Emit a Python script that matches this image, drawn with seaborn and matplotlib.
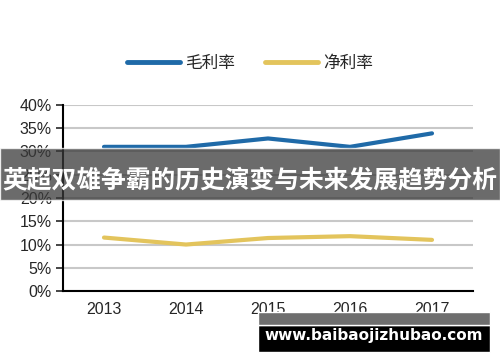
import pandas as pd
import matplotlib
matplotlib.use("Agg")
import matplotlib.pyplot as plt
import seaborn as sns
from matplotlib.patches import Rectangle

years = ["2013", "2014", "2015", "2016", "2017"]
gross_margin = [31.0, 31.0, 32.8, 31.0, 33.9]
net_margin = [11.5, 10.0, 11.4, 11.8, 11.0]
series_names = ["毛利率", "净利率"]
yticks = [0, 5, 10, 15, 20, 25, 30, 35, 40]

sns.set_style("white")
plt.rcParams["font.family"] = ["Liberation Sans", "Noto Sans CJK SC", "DejaVu Sans"]

df = pd.DataFrame({
    "x": list(range(len(years))) * 2,
    "value": gross_margin + net_margin,
    "series": [series_names[0]] * len(years) + [series_names[1]] * len(years),
})

fig = plt.figure(figsize=(5, 3.62), dpi=100)
ax = fig.add_axes([0.126, 0.196, 0.82, 0.514])

sns.lineplot(data=df, x="x", y="value", hue="series",
             palette=["#1f6aa8", "#e3c45c"], linewidth=3, ax=ax, legend=False)

ax.set_xlim(-0.5, len(years) - 0.5)
ax.set_ylim(0, 40)
ax.set_yticks(yticks)
ax.set_yticklabels([f"{t}%" for t in yticks], fontsize=11.5)
ax.set_xticks(range(len(years)))
ax.set_xticklabels(years, fontsize=11.5)
ax.set_xticks([i - 0.5 for i in range(len(years) + 1)], minor=True)
ax.tick_params(axis="x", which="major", length=0, pad=8)
ax.tick_params(axis="x", which="minor", length=5, width=1.2, direction="out")
ax.tick_params(axis="y", length=5, width=1.2, direction="out", left=True, pad=3)
ax.set_xlabel("")
ax.set_ylabel("")
ax.yaxis.grid(True, color="#c8c8c8", linewidth=1.5)
ax.set_axisbelow(True)
for side in ["top", "right"]:
    ax.spines[side].set_visible(False)
for side in ["left", "bottom"]:
    ax.spines[side].set_color("black")
    ax.spines[side].set_linewidth(1.5)

# legend drawn at top
handles = [plt.Line2D([], [], color=c, linewidth=3.5, solid_capstyle="round")
           for c in ["#1f6aa8", "#e3c45c"]]
fig.legend(handles, series_names, loc="center", bbox_to_anchor=(0.5, 0.826),
           ncol=2, frameon=False, handlelength=3.2, columnspacing=1.8,
           handletextpad=0.3, prop={"family": "Noto Sans CJK SC", "size": 12})

# overlay banner
fig.patches.append(Rectangle((0, 0.448), 1, 0.142, transform=fig.transFigure,
                             facecolor="#3a3a3a", alpha=0.75, zorder=5))
fig.text(0.5, 0.503, "英超双雄争霸的历史演变与未来发展趋势分析", ha="center", va="center",
         color="white", fontsize=17.8, fontweight="bold",
         family=["Noto Sans CJK SC", "DejaVu Sans"], zorder=6)

# watermark
fig.patches.append(Rectangle((0.516, 0.028), 0.464, 0.073, transform=fig.transFigure,
                             facecolor="black", zorder=5))
fig.patches.append(Rectangle((0.516, 0.101), 0.464, 0.036, transform=fig.transFigure,
                             facecolor="#6e6e6e", zorder=5))
fig.text(0.748, 0.072, "www.baibaojizhubao.com", ha="center", va="center",
         color="white", fontsize=11, fontweight="bold", family="DejaVu Sans", zorder=6)

fig.savefig("out.png", dpi=100)
